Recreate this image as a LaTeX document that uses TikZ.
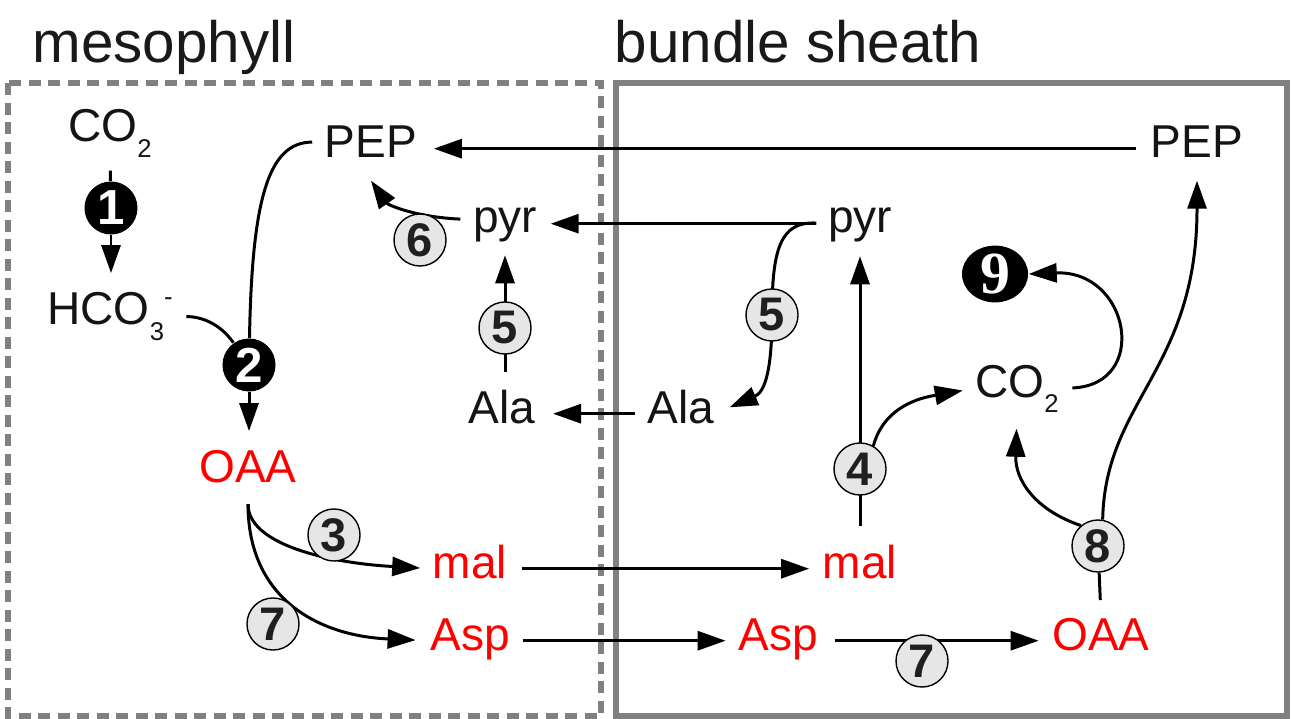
\documentclass[tikz,border=0pt]{standalone}
\usepackage{fontspec}
\setmainfont{Liberation Sans}
\newfontfamily\ninefont{Liberation Serif}
\usetikzlibrary{arrows.meta,shapes.geometric}
\pgfdeclarelayer{bg}
\pgfsetlayers{bg,main}
\definecolor{bx}{RGB}{128,128,128}
\definecolor{stepfill}{RGB}{230,230,230}
\newcommand\lowsub[1]{\raisebox{-0.15cm}{\fontsize{7.3}{8}\selectfont #1}}
\newcommand\hisup[1]{\raisebox{0.19cm}{\fontsize{7.3}{8}\selectfont #1}}
\begin{document}
\begin{tikzpicture}[x=0.01cm,y=-0.01cm,
  txt/.style={inner sep=0pt, anchor=base, font=\fontsize{13.1}{15}\selectfont, text=black!92},
  rtxt/.style={txt, text=red},
  ttl/.style={inner sep=0pt, anchor=base west, font=\fontsize{16.6}{20}\selectfont, text=black!90},
  stp/.style={circle, draw=black, line width=0.4pt, fill=stepfill, minimum size=0.52cm, inner sep=0pt, font=\fontsize{13.4}{13}\selectfont\bfseries, text=black!88},
  blk/.style={circle, fill=black, minimum size=0.53cm, inner sep=0pt, font=\fontsize{14}{14}\selectfont\bfseries, text=white},
  ln/.style={line width=0.85pt, draw=black},
  arr/.style={ln, -{Triangle[length=0.28cm,width=0.19cm]}},
  mesobox/.style={draw=bx, line width=1.6pt, dash pattern=on 0.12cm off 0.075cm},
  bsbox/.style={draw=bx, line width=1.5pt}
]
\useasboundingbox (0,0) rectangle (1292,719);

% titles
\node[ttl] (tMes) at (32,63) {mesophyll};
\node[ttl] (tBun) at (614,63) {bundle sheath};

% metabolites
\node[txt] (CO2L) at (110,142) {CO\lowsub{2}};
\node[txt] (HCO3) at (110,325) {HCO\lowsub{3}\hisup{-}};
\node[rtxt] (OAAL) at (248,482) {OAA};
\node[txt] (PEPL) at (371,158) {PEP};
\node[txt] (PEPR) at (1197,158) {PEP};
\node[txt] (pyrL) at (505,233) {pyr};
\node[txt] (pyrR) at (860,233) {pyr};
\node[txt] (AlaL) at (502,423) {Ala};
\node[txt] (AlaR) at (681,423) {Ala};
\node[rtxt] (malL) at (470,578) {mal};
\node[rtxt] (AspL) at (470,650) {Asp};
\node[rtxt] (malR) at (860,578) {mal};
\node[rtxt] (AspR) at (778,650) {Asp};
\node[rtxt] (OAAR) at (1101,650) {OAA};
\node[txt] (CO2R) at (1017,397) {CO\lowsub{2}};

% enzyme steps
\node[blk] (s1) at (111,208) {1};
\node[blk] (s2) at (249,365) {2};
\node[stp] (s3) at (334,535) {3};
\node[stp] (s4) at (860,469) {4};
\node[stp] (s5L) at (505,328) {5};
\node[stp] (s5R) at (772,315) {5};
\node[stp] (s6) at (420,240) {6};
\node[stp] (s7L) at (273,624) {7};
\node[stp] (s7R) at (922,661) {7};
\node[stp] (s8) at (1098,546) {8};
\node[ellipse, fill=black, minimum width=0.66cm, minimum height=0.5cm, inner sep=0pt, text=white, font=\ninefont\bfseries\fontsize{17}{17}\selectfont] (s9) at (995,274) {9};

\begin{pgfonlayer}{bg}
% compartments
\draw[mesobox] (8,83) rectangle (601,716);
\draw[bsbox] (616,83) rectangle (1287,716);

% mesophyll reactions
\draw[ln, shorten <=0.13cm] (CO2L.south) -- (s1);
\draw[arr, shorten >=0.19cm] (s1) -- (s1 |- HCO3.north);
\draw[ln, shorten <=0.13cm] (HCO3.east) to[out=0,in=125] (s2);
\draw[ln, shorten <=0.12cm] (PEPL.west) .. controls (268,142) and (252,200) .. (s2);
\draw[arr, shorten >=0.18cm] (s2) -- (s2 |- OAAL.north);
\draw[arr, shorten <=0.21cm, shorten >=0.12cm] (OAAL.south) .. controls (248,545) and (330,563) .. (malL.mid west);
\draw[arr, shorten <=0.21cm, shorten >=0.14cm] (OAAL.south) .. controls (248,600) and (320,636) .. (AspL.mid west);

% transport
\draw[arr, shorten <=0.14cm, shorten >=0.13cm] (malL.mid east) -- (malR.mid west);
\draw[arr, shorten <=0.13cm, shorten >=0.12cm] (AspL.mid east) -- (AspR.mid west);
\draw[arr, shorten <=0.14cm, shorten >=0.16cm] (PEPR.mid west) -- (PEPL.mid east);
\draw[arr, shorten <=0.11cm, shorten >=0.13cm] (pyrR.mid west) -- (pyrL.mid east);
\draw[arr, shorten <=0.12cm, shorten >=0.17cm] (AlaR.mid west) -- (AlaL.mid east);

% bundle sheath reactions
\draw[arr, shorten <=0.17cm, shorten >=0.13cm] (AspR.mid east) -- (AspR.mid east -| OAAR.west);
\draw[arr, shorten <=0.18cm, shorten >=0.13cm] (malR.north) -- (pyrR.south);
\draw[arr, shorten >=0.12cm] (s4.60) to[out=75,in=190] (CO2R.west);
\draw[arr, shorten <=0.13cm] (CO2R.east) .. controls (1150,385) and (1130,270) .. (s9.east);
\draw[ln, shorten <=0.17cm] (OAAR.north) -- (s8);
\draw[arr, shorten >=0.16cm] (s8.130) .. controls (1035,510) and (1015,480) .. (CO2R.south);
\draw[arr, shorten >=0.22cm] (s8.80) .. controls (1105,400) and (1197,370) .. (PEPR.south);
\draw[arr, shorten <=0.11cm, shorten >=0.16cm] (pyrR.mid west) .. controls (780,221) and (772,250) .. (s5R.center) .. controls (772,370) and (765,392) .. (AlaR.mid east);

% back in mesophyll
\draw[arr, shorten <=0.17cm, shorten >=0.12cm] (pyrL.south |- AlaL.north) -- (pyrL.south);
\draw[arr, shorten <=0.12cm] ([yshift=0.04cm]pyrL.mid west) .. controls (415,217) and (388,205) .. ([yshift=-0.22cm]PEPL.south);
\end{pgfonlayer}
\end{tikzpicture}
\end{document}
